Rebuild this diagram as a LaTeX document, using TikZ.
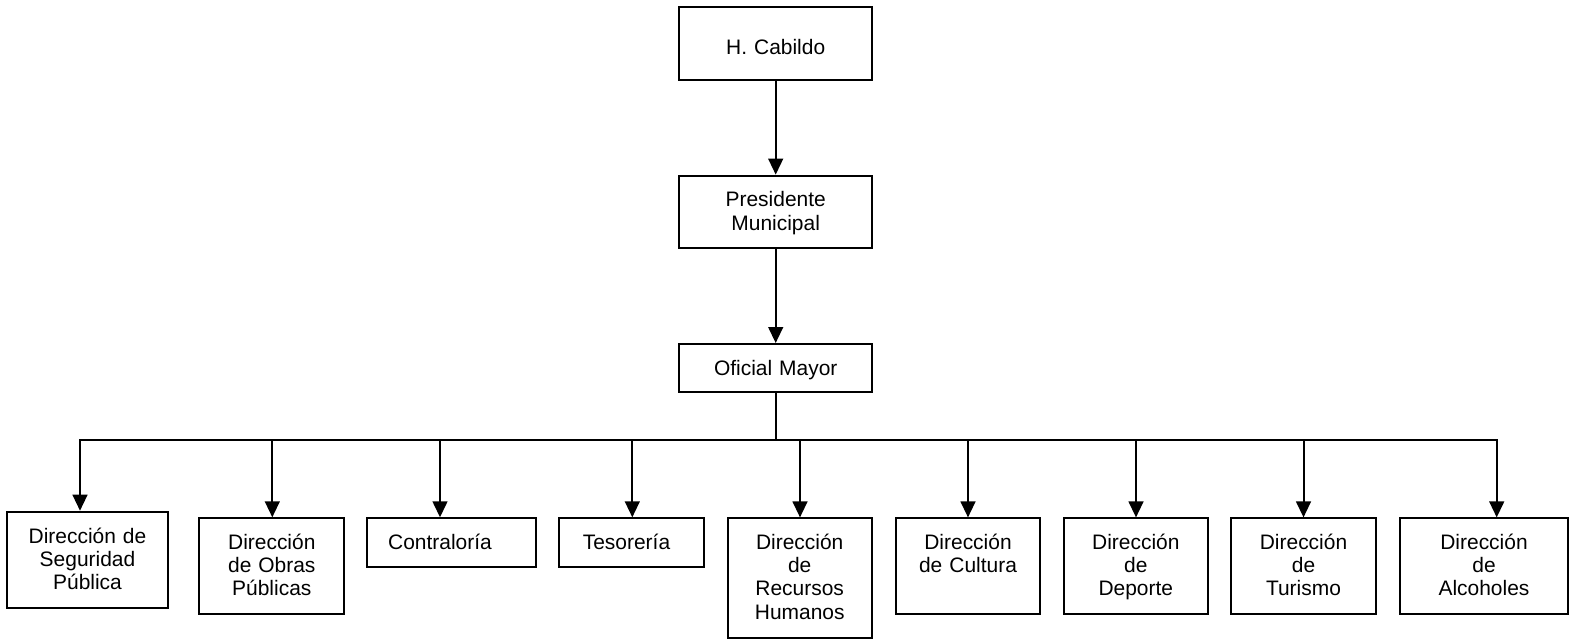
\documentclass[tikz,border=0pt]{standalone}
\usepackage{fontspec}
\setmainfont{Liberation Sans}
\usetikzlibrary{arrows.meta,positioning}

\tikzset{
  caja/.style={rectangle,draw,line width=1.4pt,inner sep=0pt},
  texto/.style={align=center,text width=4cm,anchor=base,inner sep=0pt,font=\fontsize{14.9}{16.6}\selectfont},
  flecha/.style={line width=1.4pt,-{Triangle[length=0.4cm,width=0.37cm]}},
  linea/.style={line width=1.4pt,line cap=rect}
}

\begin{document}
\begin{tikzpicture}[x=0.025cm,y=-0.025cm]
    \useasboundingbox (0,0) rectangle (1570,639);

    % Upper chain
    \node[caja,minimum width=4.82cm,minimum height=1.82cm] (cab) at (775.7,43.7) {};
    \node[texto] (tcab) at (775.7,54) {H. Cabildo};

    \node[caja,minimum width=4.82cm,minimum height=1.82cm] (pres) at (775.7,212) {};
    \node[texto] (tpres) at (775.7,206.7) {Presidente\\Municipal};

    \node[caja,minimum width=4.82cm,minimum height=1.19cm] (ofi) at (775.7,367.8) {};
    \node[texto] (tofi) at (775.7,375) {Oficial Mayor};

    \draw[flecha] (cab) -- (pres);
    \draw[flecha] (pres) -- (ofi);

    % Direcciones
    \node[caja,minimum width=4.01cm,minimum height=2.415cm] (seg) at (87.5,560) {};
    \node[texto] (tseg) at (87.5,543.3) {Dirección de\\Seguridad\\Pública};

    \node[caja,minimum width=3.625cm,minimum height=2.4cm] (obras) at (271.8,566.3) {};
    \node[texto] (tobras) at (271.8,549.3) {Dirección\\de Obras\\Públicas};

    \node[caja,minimum width=4.22cm,minimum height=1.21cm] (contra) at (451.7,542.5) {};
    \node[texto] (tcontra) at (440,549.3) {Contraloría};

    \node[caja,minimum width=3.625cm,minimum height=1.21cm] (teso) at (631.8,542.5) {};
    \node[texto] (tteso) at (626.5,549.3) {Tesorería};

    \node[caja,minimum width=3.6cm,minimum height=2.99cm] (rh) at (799.7,578.2) {};
    \node[texto] (trh) at (799.7,549.3) {Dirección\\de\\Recursos\\Humanos};

    \node[caja,minimum width=3.61cm,minimum height=2.39cm] (cult) at (968,566.2) {};
    \node[texto] (tcult) at (968,549.3) {Dirección\\de Cultura};

    \node[caja,minimum width=3.61cm,minimum height=2.39cm] (dep) at (1135.8,566.2) {};
    \node[texto] (tdep) at (1135.8,549.3) {Dirección\\de\\Deporte};

    \node[caja,minimum width=3.61cm,minimum height=2.39cm] (tur) at (1303.5,566.2) {};
    \node[texto] (ttur) at (1303.5,549.3) {Dirección\\de\\Turismo};

    \node[caja,minimum width=4.21cm,minimum height=2.39cm] (alc) at (1484,566.2) {};
    \node[texto] (talc) at (1484,549.3) {Dirección\\de\\Alcoholes};

    % Bus
    \coordinate (tronco) at (775.7,440);
    \draw[linea] (ofi.south) -- (tronco);
    \foreach \n/\x [count=\i] in {seg/80,obras/272.3,contra/440,teso/632.3,rh/800,cult/968,dep/1136,tur/1303.5,alc/1496.7}{
        \coordinate (b\i) at (\x,440);
        \draw[flecha] (b\i) -- (b\i |- \n.north);
    }
    \draw[linea] (b1) -- (b9);
\end{tikzpicture}
\end{document}
